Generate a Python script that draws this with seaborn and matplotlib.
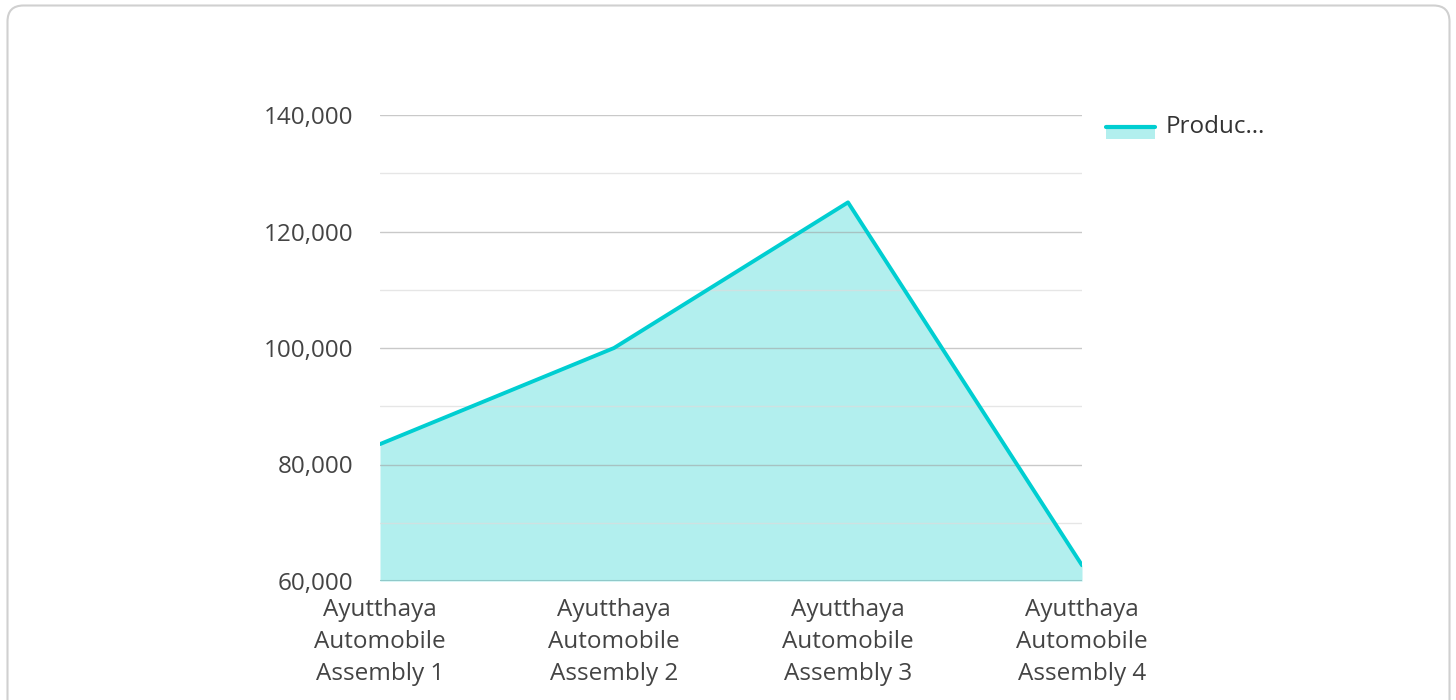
import pandas as pd
import matplotlib.pyplot as plt
import seaborn as sns
from matplotlib.patches import FancyBboxPatch, Rectangle
from matplotlib.lines import Line2D
from matplotlib.ticker import FuncFormatter, MultipleLocator

# Dados do gráfico
plantas = ['Ayutthaya\nAutomobile\nAssembly 1', 'Ayutthaya\nAutomobile\nAssembly 2',
           'Ayutthaya\nAutomobile\nAssembly 3', 'Ayutthaya\nAutomobile\nAssembly 4']
producao = [83500, 100000, 125000, 62700]
serie = 'Produc…'

cor_linha = '#00CED1'
cor_area = '#B2EFEE'

sns.set_style('white')
plt.rcParams['font.family'] = ['Open Sans', 'DejaVu Sans']

data = pd.DataFrame({'Planta': range(len(plantas)), 'Producao': producao})

fig = plt.figure(figsize=(14.56, 7), dpi=100)
ax = fig.add_axes([380 / 1456, 1 - 581 / 700, 702 / 1456, 466 / 700])

# Moldura arredondada (em polegadas)
fig.patches.append(FancyBboxPatch((0.075, -0.3), 14.42, 7.245,
                                  boxstyle='round,pad=0,rounding_size=0.16',
                                  transform=fig.dpi_scale_trans, facecolor='none',
                                  edgecolor='#d0d0d0', linewidth=1.5, zorder=0))

ax.fill_between(data['Planta'], data['Producao'], 60000, color=cor_area, alpha=1, zorder=1, linewidth=0)
sns.lineplot(data=data, x='Planta', y='Producao', color=cor_linha, linewidth=2.8, ax=ax, zorder=3)

ax.set_xlim(0, 3)
ax.set_ylim(60000, 140000)
ax.yaxis.set_major_locator(MultipleLocator(20000))
ax.yaxis.set_minor_locator(MultipleLocator(10000))
ax.yaxis.set_major_formatter(FuncFormatter(lambda v, p: f'{int(v):,}'))
ax.grid(True, which='major', axis='y', color='#9e9e9e', alpha=0.55, linewidth=1, zorder=2)
ax.grid(True, which='minor', axis='y', color='#dcdcdc', alpha=0.7, linewidth=1, zorder=2)
ax.set_axisbelow(False)
ax.set_xticks(range(len(plantas)))
ax.set_xticklabels(plantas, linespacing=1.45)
ax.tick_params(axis='both', which='both', length=0, labelsize=17.5, colors='#444444')
ax.tick_params(axis='y', pad=19)
ax.tick_params(axis='x', pad=12)
ax.set_xlabel('')
ax.set_ylabel('')
for s in ax.spines.values():
    s.set_visible(False)
ax.axhline(60000, color='#8fcfcf', linewidth=1.5, zorder=2)

# Legenda
fig.patches.append(Rectangle((1106 / 1456, 1 - 139 / 700), 49 / 1456, 13 / 700,
                             transform=fig.transFigure, facecolor=cor_area, edgecolor='none'))
fig.lines.append(Line2D([1106 / 1456, 1155 / 1456], [1 - 127 / 700, 1 - 127 / 700],
                        transform=fig.transFigure, color=cor_linha, linewidth=3))
fig.text(1166 / 1456, 1 - 127 / 700, serie, fontsize=17.5, color='#333333', va='center', ha='left')

fig.savefig('out.png', dpi=100)
